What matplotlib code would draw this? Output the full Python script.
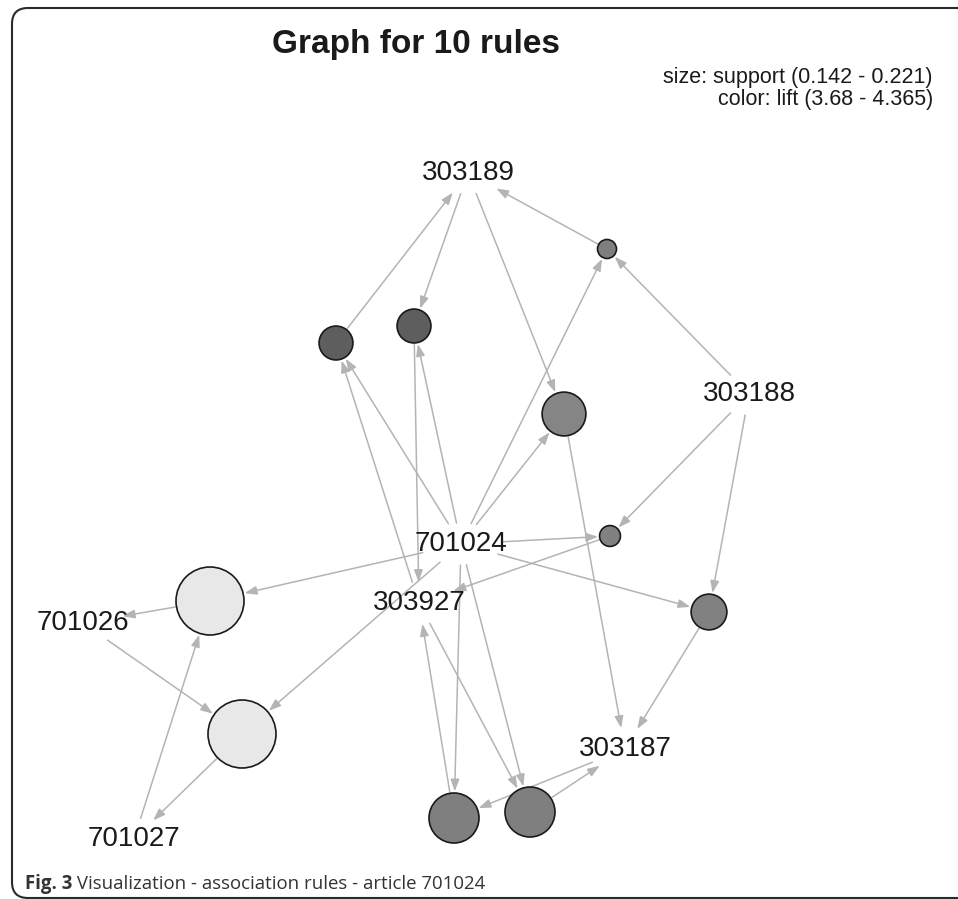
import matplotlib
matplotlib.use("Agg")
import matplotlib.pyplot as plt
from matplotlib.patches import Circle, FancyArrowPatch, FancyBboxPatch
import numpy as np

# ---------------- data ----------------
items = ["303189", "303188", "701024", "303927", "701026", "701027", "303187"]
# layout (graph coordinates as drawn by the layout algorithm)
item_x = [468, 749, 461, 419, 83, 134, 625]
item_y = [173, 394, 544, 603, 623, 839, 749]

rule_lhs = [
    ["701024", "303927"],
    ["303189", "701024"],
    ["303189", "701024"],
    ["701024", "303188"],
    ["303188", "701024"],
    ["701024", "701027"],
    ["701026", "701024"],
    ["303188", "701024"],
    ["701024", "303187"],
    ["303927", "701024"],
]
rule_rhs = ["303189", "303927", "303187", "303189", "303927",
            "701026", "701027", "303187", "303927", "303187"]
rule_support = [0.166, 0.166, 0.182, 0.142, 0.145, 0.221, 0.221, 0.169, 0.192, 0.192]
rule_lift = [4.365, 4.365, 4.17, 4.20, 4.19, 3.68, 3.68, 4.19, 4.20, 4.20]
rule_x = [336, 414, 564, 607, 610, 210, 242, 709, 454, 530]
rule_y = [343, 326, 414, 249, 536, 601, 734, 612, 818, 812]

support_range = (0.142, 0.221)
lift_range = (3.68, 4.365)

title = "Graph for 10 rules"
legend_lines = ["size: support (0.142 - 0.221)", "color: lift (3.68 - 4.365)"]
caption_bold = "Fig. 3"
caption_rest = " Visualization - association rules - article 701024"

# ---------------- figure ----------------
W, H = 958, 899
fig = plt.figure(figsize=(W / 100, H / 100), dpi=100)
ax = fig.add_axes([0, 0, 1, 1])
ax.set_xlim(0, W)
ax.set_ylim(H, 0)
ax.axis("off")

# frame
frame = FancyBboxPatch((12, 8), 1000, 890, boxstyle="round,pad=0,rounding_size=16",
                       fc="none", ec="#2a2a2a", lw=1.5, zorder=0)
ax.add_patch(frame)

r_min, r_max = 9.5, 34.0
g_light, g_dark = 232, 94


def radius(s):
    return r_min + (s - support_range[0]) / (support_range[1] - support_range[0]) * (r_max - r_min)


def fill(l):
    g = g_light - (l - lift_range[0]) / (lift_range[1] - lift_range[0]) * (g_light - g_dark)
    g = int(round(g))
    return "#%02x%02x%02x" % (g, g, g)


ipos = {n: np.array([x, y], float) for n, x, y in zip(items, item_x, item_y)}
A_LAB, B_LAB = 42.0, 21.0
edge_col = "#b4b4b4"


def label_gap(d):
    u = d / np.linalg.norm(d)
    return 1.0 / np.sqrt((u[0] / A_LAB) ** 2 + (u[1] / B_LAB) ** 2)


def draw_edge(p0, p1, g0, g1):
    d = p1 - p0
    L = np.linalg.norm(d)
    u = d / L
    a = p0 + u * g0
    b = p1 - u * g1
    arr = FancyArrowPatch(a, b, arrowstyle="-|>,head_length=0.55,head_width=0.2",
                          mutation_scale=13, color=edge_col, lw=1.1,
                          shrinkA=0, shrinkB=0, zorder=1)
    ax.add_patch(arr)


for i in range(len(rule_rhs)):
    rp = np.array([rule_x[i], rule_y[i]], float)
    r = radius(rule_support[i])
    for it in rule_lhs[i]:
        p = ipos[it]
        draw_edge(p, rp, label_gap(rp - p), r + 1.5)
    p = ipos[rule_rhs[i]]
    draw_edge(rp, p, r + 1.0, label_gap(rp - p))

for i in range(len(rule_rhs)):
    c = Circle((rule_x[i], rule_y[i]), radius(rule_support[i]),
               fc=fill(rule_lift[i]), ec="#1a1a1a", lw=1.2, zorder=3)
    ax.add_patch(c)

for n in items:
    ax.text(ipos[n][0], ipos[n][1], n, ha="center", va="center",
            fontsize=20, family="Liberation Sans", color="#1a1a1a", zorder=4)

ax.text(416, 45, title, ha="center", va="center", fontsize=24,
        family="Liberation Sans", fontweight="bold", color="#1a1a1a")
ax.text(933, 77, legend_lines[0], ha="right", va="center", fontsize=15.5,
        family="Liberation Sans", color="#1a1a1a")
ax.text(933, 100, legend_lines[1], ha="right", va="center", fontsize=15.5,
        family="Liberation Sans", color="#1a1a1a")

t1 = ax.text(25, 884, caption_bold, ha="left", va="center", fontsize=13.4,
             family="Open Sans", fontweight="bold", color="#333333")
fig.canvas.draw()
bb = t1.get_window_extent()
x_end = ax.transData.inverted().transform((bb.x1, bb.y0))[0]
ax.text(x_end, 884, caption_rest, ha="left", va="center", fontsize=13.4,
        family="Open Sans", color="#333333")

fig.savefig("out.png", dpi=100)
